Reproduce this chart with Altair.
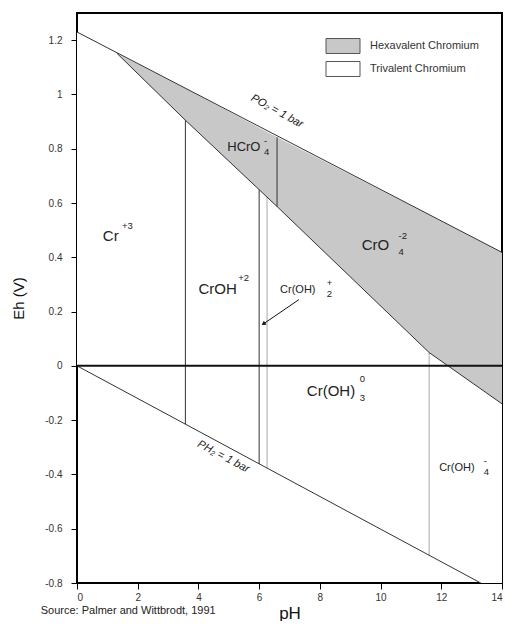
import altair as alt
import pandas as pd

# ---------------- data (pH, Eh in volts) ----------------
hex_ph = [1.31, 3.57, 6.59, 11.6, 14.0]
hex_upper = [1.152, 1.023, 0.842, 0.557, 0.418]
hex_lower = [1.152, 0.905, 0.587, 0.049, -0.14]

tri_ph = [0.0, 1.31, 3.57, 6.59, 11.6, 13.3, 14.0]
tri_upper = [1.23, 1.152, 0.905, 0.587, 0.049, -0.085, -0.14]
tri_lower = [0.0, -0.079, -0.215, -0.397, -0.698, -0.8, -0.8]

o2_ph = [0.0, 14.0]
o2_eh = [1.23, 0.418]
h2_ph = [0.0, 13.3]
h2_eh = [0.0, -0.8]
zero_ph = [0.0, 14.0]
zero_eh = [0.0, 0.0]

vert_ph = [3.57, 6.0, 6.26, 6.59, 11.6]
vert_top = [0.905, 0.649, 0.622, 0.842, 0.049]
vert_bot = [-0.215, -0.361, -0.377, 0.587, -0.698]
vert_kind = ["dark", "dark", "light", "dark", "light"]

big_text = ["Cr", "CrOH", "CrO", "Cr(OH)"]
big_ph = [0.85, 4.0, 9.38, 7.57]
big_eh = [0.48, 0.285, 0.447, -0.092]

mid_text = ["HCrO"]
mid_ph = [4.95]
mid_eh = [0.805]

small_text = ["Cr(OH)", "Cr(OH)"]
small_ph = [6.69, 11.93]
small_eh = [0.281, -0.376]

script_text = ["+3", "+2", "-", "4", "-2", "4", "+", "2", "0", "3", "-", "4"]
script_ph = [1.48, 5.31, 6.16, 6.16, 10.59, 10.59, 8.23, 8.23, 9.31, 9.31, 13.4, 13.4]
script_eh = [0.514, 0.322, 0.827, 0.787, 0.48, 0.418, 0.307, 0.266, -0.047, -0.117, -0.35, -0.39]

o2_label = ["PO₂ = 1 bar"]
o2_label_ph = [6.59]
o2_label_eh = [0.938]
h2_label = ["PH₂ = 1 bar"]
h2_label_ph = [4.82]
h2_label_eh = [-0.335]

arrow_ph = [7.31]
arrow_eh = [0.244]
arrow_ph2 = [6.16]
arrow_eh2 = [0.156]

legend_names = ["Hexavalent Chromium", "Trivalent Chromium"]
legend_colors = ["#c8c8c8", "#ffffff"]

x_ticks = [0, 2, 4, 6, 8, 10, 12, 14]
y_ticks = [-0.8, -0.6, -0.4, -0.2, 0, 0.2, 0.4, 0.6, 0.8, 1, 1.2]

FONT = "Liberation Sans"

# ---------------- scales / axes ----------------
xscale = alt.Scale(domain=[0, 14], nice=False, zero=False)
yscale = alt.Scale(domain=[-0.8, 1.3], nice=False, zero=False)
xaxis = alt.Axis(values=x_ticks, title="pH", grid=False, domain=False,
                 tickColor="black", tickSize=6, labelPadding=3,
                 labelFontSize=10, labelColor="#333", labelFont=FONT,
                 titleFont=FONT, titleFontSize=17, titleFontWeight="normal",
                 titleColor="#111", titlePadding=3,
                 labelExpr="replace(format(datum.value, '~g'), '\u2212', '-')")
yaxis = alt.Axis(values=y_ticks, title="Eh (V)", grid=False, domain=False,
                 tickColor="black", tickSize=6, labelPadding=9,
                 labelFontSize=10, labelColor="#333", labelFont=FONT,
                 titleFont=FONT, titleFontSize=15, titleFontWeight="normal",
                 titleColor="#111", titlePadding=18,
                 labelExpr="replace(format(datum.value, '~g'), '\u2212', '-')")


def X(f="pH"):
    return alt.X(f, type="quantitative", scale=xscale, axis=xaxis)


def Y(f="Eh"):
    return alt.Y(f, type="quantitative", scale=yscale, axis=yaxis)


# ---------------- regions ----------------
regions = pd.concat([
    pd.DataFrame({"pH": tri_ph, "top": tri_upper, "bot": tri_lower,
                  "region": legend_names[1], "ord": 0}),
    pd.DataFrame({"pH": hex_ph, "top": hex_upper, "bot": hex_lower,
                  "region": legend_names[0], "ord": 1}),
])

area = alt.Chart(regions).mark_area(clip=True, strokeWidth=0).encode(
    x=X(),
    y=Y("top"),
    y2="bot:Q",
    fill=alt.Fill("region:N",
                  scale=alt.Scale(domain=legend_names, range=legend_colors),
                  legend=alt.Legend(
                      title=None, orient="none", legendX=257, legendY=24,
                      symbolType="M-2,-0.88H2V0.88H-2Z", symbolSize=289,
                      symbolStrokeColor="#555", symbolStrokeWidth=1,
                      symbolOpacity=1, labelFont=FONT, labelFontSize=11,
                      labelColor="#333", labelOffset=18, rowPadding=3)),
    detail="region:N",
    order="ord:Q",
)


def line_layer(xs, ys, color="#333", width=1):
    df = pd.DataFrame({"pH": xs, "Eh": ys})
    return alt.Chart(df).mark_line(color=color, strokeWidth=width, clip=True).encode(
        x=X(), y=Y())


o2_line = line_layer(o2_ph, o2_eh)
h2_line = line_layer(h2_ph, h2_eh)
hex_line = line_layer(hex_ph, hex_lower)
zero_line = line_layer(zero_ph, zero_eh, color="#111", width=2)

verts_df = pd.DataFrame({"pH": vert_ph, "top": vert_top, "bot": vert_bot, "kind": vert_kind})
verts = alt.Chart(verts_df).mark_rule(strokeWidth=1).encode(
    x=X(), y=Y("top"), y2="bot:Q",
    color=alt.Color("kind:N", scale=alt.Scale(domain=["dark", "light"],
                                              range=["#333333", "#a8a8a8"]),
                    legend=None),
)


def text_layer(texts, xs, ys, size, **kw):
    df = pd.DataFrame({"t": texts, "pH": xs, "Eh": ys})
    return alt.Chart(df).mark_text(font=FONT, fontSize=size, color="#222",
                                   align="left", baseline="middle", **kw).encode(
        x=X(), y=Y(), text="t:N")


big = text_layer(big_text, big_ph, big_eh, 15)
mid = text_layer(mid_text, mid_ph, mid_eh, 13)
small = text_layer(small_text, small_ph, small_eh, 11)
scripts = text_layer(script_text, script_ph, script_eh, 9.5)

o2_lab = alt.Chart(pd.DataFrame({"t": o2_label, "pH": o2_label_ph, "Eh": o2_label_eh})).mark_text(
    font=FONT, fontSize=11, fontStyle="italic", color="#222", angle=29,
    align="center", baseline="middle").encode(x=X(), y=Y(), text="t:N")
h2_lab = alt.Chart(pd.DataFrame({"t": h2_label, "pH": h2_label_ph, "Eh": h2_label_eh})).mark_text(
    font=FONT, fontSize=11, fontStyle="italic", color="#222", angle=28,
    align="center", baseline="middle").encode(x=X(), y=Y(), text="t:N")

arrow_df = pd.DataFrame({"pH": arrow_ph, "Eh": arrow_eh, "pH2": arrow_ph2, "Eh2": arrow_eh2})
arrow = alt.Chart(arrow_df).mark_rule(color="#111", strokeWidth=1).encode(
    x=X(), y=Y(), x2="pH2:Q", y2="Eh2:Q")
arrow_head = alt.Chart(arrow_df).mark_point(
    shape="triangle", filled=True, color="#111", size=22, angle=236, opacity=1).encode(
    x=X("pH2"), y=Y("Eh2"))

chart = alt.layer(
    area, verts, o2_line, h2_line, hex_line, zero_line,
    big, mid, small, scripts, o2_lab, h2_lab, arrow, arrow_head,
).properties(
    width=425, height=570,
    title=alt.TitleParams("Source:  Palmer and Wittbrodt, 1991", orient="bottom",
                          anchor="start", frame="bounds", dx=29, offset=-16,
                          fontSize=11, fontWeight="normal", font=FONT, color="#222"),
    padding={"left": 3, "top": 5, "right": 1, "bottom": 0},
).configure(
    font=FONT
).configure_view(
    stroke="black", strokeWidth=2
)

chart.save("out.html", embed_options={"renderer": "svg", "actions": False})
